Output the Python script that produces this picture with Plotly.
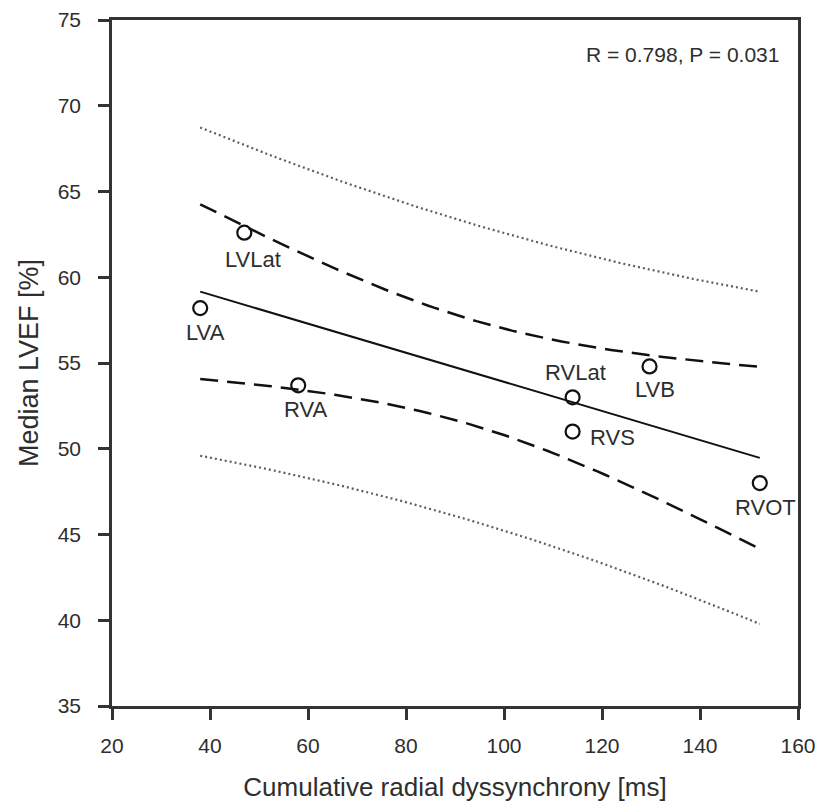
import numpy as np
import plotly.graph_objects as go

# Data
labels = ["LVLat", "LVA", "RVA", "RVLat", "LVB", "RVS", "RVOT"]
dyssync_ms = [47.0, 38.0, 58.0, 114.0, 129.7, 114.0, 152.2]
lvef_pct = [62.6, 58.2, 53.7, 53.0, 54.8, 51.0, 48.0]
x_ticks = [20, 40, 60, 80, 100, 120, 140, 160]
y_ticks = [35, 40, 45, 50, 55, 60, 65, 70, 75]
stat_text = "R = 0.798, P = 0.031"
t_crit = 2.571  # t(0.975, df=5)

# label offsets in px (style)
label_shift = {
    "LVLat": (9, -27), "LVA": (5, -24), "RVA": (8, -24), "RVLat": (3, 25),
    "LVB": (5, -23), "RVS": (40, -6), "RVOT": (6, -24),
}

x = np.array(dyssync_ms)
y = np.array(lvef_pct)
n = len(x)
slope, intercept = np.polyfit(x, y, 1)
xs = np.linspace(x.min(), x.max(), 80)
yhat = intercept + slope * xs
resid = y - (intercept + slope * x)
s = np.sqrt(np.sum(resid ** 2) / (n - 2))
sxx = np.sum((x - x.mean()) ** 2)
se_mean = s * np.sqrt(1 / n + (xs - x.mean()) ** 2 / sxx)
se_pred = s * np.sqrt(1 + 1 / n + (xs - x.mean()) ** 2 / sxx)

txt = "#2e2e2e"
fnt = "Liberation Sans"
fig = go.Figure()
for sign in (1, -1):
    fig.add_trace(go.Scatter(x=xs, y=yhat + sign * t_crit * se_pred, mode="lines",
                             line=dict(color="#5e5e5e", width=2.2, dash="2px,3px")))
for sign in (1, -1):
    fig.add_trace(go.Scatter(x=xs, y=yhat + sign * t_crit * se_mean, mode="lines",
                             line=dict(color="#111111", width=2.5, dash="18px,9px")))
fig.add_trace(go.Scatter(x=xs, y=yhat, mode="lines",
                         line=dict(color="#111111", width=2)))
fig.add_trace(go.Scatter(x=dyssync_ms, y=lvef_pct, mode="markers",
                         marker=dict(symbol="circle-open", size=14, color="#111111",
                                     line=dict(width=2.2))))

for lab, xv, yv in zip(labels, dyssync_ms, lvef_pct):
    dx, dy = label_shift[lab]
    fig.add_annotation(x=xv, y=yv, text=lab, showarrow=False, xshift=dx, yshift=dy,
                       xanchor="center", yanchor="middle",
                       font=dict(size=22, color=txt, family=fnt))

fig.add_annotation(xref="paper", yref="paper", x=0.975, y=0.949, text=stat_text,
                   showarrow=False, xanchor="right", yanchor="middle",
                   font=dict(size=21, color=txt, family=fnt))

axis_common = dict(showline=True, linecolor="#333333", linewidth=2.5, mirror=True,
                   ticks="outside", ticklen=11, tickwidth=2.5, tickcolor="#333333",
                   showgrid=False, zeroline=False, automargin=False,
                   tickfont=dict(size=21, color=txt, family=fnt))

fig.update_layout(
    width=819, height=804,
    margin=dict(l=112, r=21, t=20, b=98),
    paper_bgcolor="white", plot_bgcolor="white",
    showlegend=False,
    font=dict(family=fnt, color=txt),
    xaxis=dict(range=[20, 160], tickvals=x_ticks, ticklabelstandoff=8,
               title=dict(text="Cumulative radial dyssynchrony [ms]",
                          font=dict(size=26, color=txt), standoff=22),
               **axis_common),
    yaxis=dict(range=[35, 75], tickvals=y_ticks, ticklabelstandoff=13,
               title=dict(text="Median LVEF [%]",
                          font=dict(size=27, color=txt), standoff=12),
               **axis_common),
)

fig.write_html("out.html", config={"displayModeBar": False},
               post_script="document.body.style.margin='0';")
